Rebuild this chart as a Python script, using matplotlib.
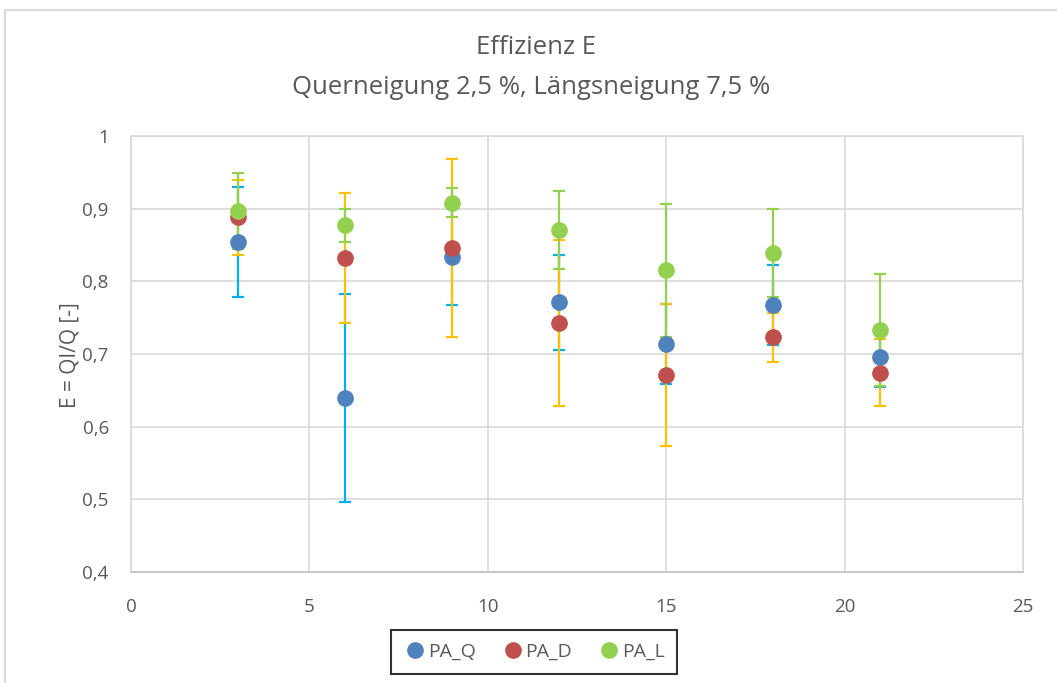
import matplotlib
matplotlib.use("Agg")
import matplotlib.pyplot as plt
from matplotlib.patches import Rectangle
from matplotlib.lines import Line2D

plt.rcParams['font.family'] = ['Open Sans', 'DejaVu Sans']

x = [3, 6, 9, 12, 15, 18, 21]
pa_q = [0.854, 0.640, 0.834, 0.771, 0.714, 0.768, 0.696]
pa_q_err = [0.076, 0.143, 0.067, 0.065, 0.055, 0.055, 0.042]
pa_d = [0.888, 0.832, 0.846, 0.743, 0.671, 0.723, 0.674]
pa_d_err = [0.052, 0.090, 0.122, 0.114, 0.098, 0.034, 0.046]
pa_l = [0.897, 0.877, 0.908, 0.871, 0.815, 0.839, 0.733]
pa_l_err = [0.052, 0.023, 0.020, 0.054, 0.091, 0.061, 0.077]

series = [
    ("PA_Q", pa_q, pa_q_err, "#4F81BD", "#00B0F0"),
    ("PA_D", pa_d, pa_d_err, "#C0504D", "#FFC000"),
    ("PA_L", pa_l, pa_l_err, "#92D050", "#92D050"),
]

W, H = 1057, 683
fig = plt.figure(figsize=(W / 100, H / 100), dpi=100)
ax = fig.add_axes([131 / W, 1 - 572 / H, (1023 - 131) / W, (572 - 136) / H])

text_color = "#595959"
grid_color = "#D9D9D9"

for i, (name, vals, errs, mc, ec) in enumerate(series):
    ax.errorbar(x, vals, yerr=errs, fmt="none", ecolor=ec, elinewidth=1.6,
                capsize=4.5, capthick=1.6, zorder=3 + i * 0.1)
for i, (name, vals, errs, mc, ec) in enumerate(series):
    ax.plot(x, vals, linestyle="none", marker="o", markersize=11,
            markerfacecolor=mc, markeredgecolor=mc, zorder=5 + i * 0.1, label=name)

ax.set_xlim(0, 25)
ax.set_ylim(0.4, 1.0)
ax.set_xticks([0, 5, 10, 15, 20, 25])
ax.set_yticks([0.4, 0.5, 0.6, 0.7, 0.8, 0.9, 1.0])
ax.set_xticklabels(["0", "5", "10", "15", "20", "25"])
ax.set_yticklabels(["0,4", "0,5", "0,6", "0,7", "0,8", "0,9", "1"])
ax.tick_params(axis="both", length=0, labelsize=13.5, colors=text_color)
ax.tick_params(axis="x", pad=19)
ax.tick_params(axis="y", pad=16)
ax.grid(True, color=grid_color, linewidth=1.2)
ax.set_axisbelow(True)
for side in ["top", "right", "left"]:
    ax.spines[side].set_color(grid_color)
    ax.spines[side].set_linewidth(1.2)
ax.spines["bottom"].set_color("#BFBFBF")
ax.spines["bottom"].set_linewidth(1.2)

fig.text(70 / W, 1 - 355 / H, "E = QI/Q [-]", rotation=90, ha="center", va="center",
         fontsize=15, color=text_color)
fig.text(536 / W, 1 - 47 / H, "Effizienz E", ha="center", va="center",
         fontsize=18.5, color=text_color)
fig.text(531 / W, 1 - 87 / H, "Querneigung 2,5 %, Längsneigung 7,5 %", ha="center",
         va="center", fontsize=18.5, color=text_color)

handles = [Line2D([], [], linestyle="none", marker="o", markersize=11,
                  markerfacecolor=s[3], markeredgecolor=s[3]) for s in series]
leg = fig.legend(handles, [s[0] for s in series], loc="center",
                 bbox_to_anchor=(534 / W, 1 - 652 / H), ncol=3, frameon=True,
                 fontsize=14, handletextpad=0.05, columnspacing=1.3,
                 handlelength=1.2, borderpad=0.65, fancybox=False)
leg.get_frame().set_edgecolor("black")
leg.get_frame().set_linewidth(1.5)
for t in leg.get_texts():
    t.set_color(text_color)

fig.patches.append(Rectangle((5 / W, -0.1), 1.2, 1 - 10 / H + 0.1, transform=fig.transFigure,
                             fill=False, edgecolor="#D9D9D9", linewidth=1.5))

fig.savefig("out.png", dpi=100)
